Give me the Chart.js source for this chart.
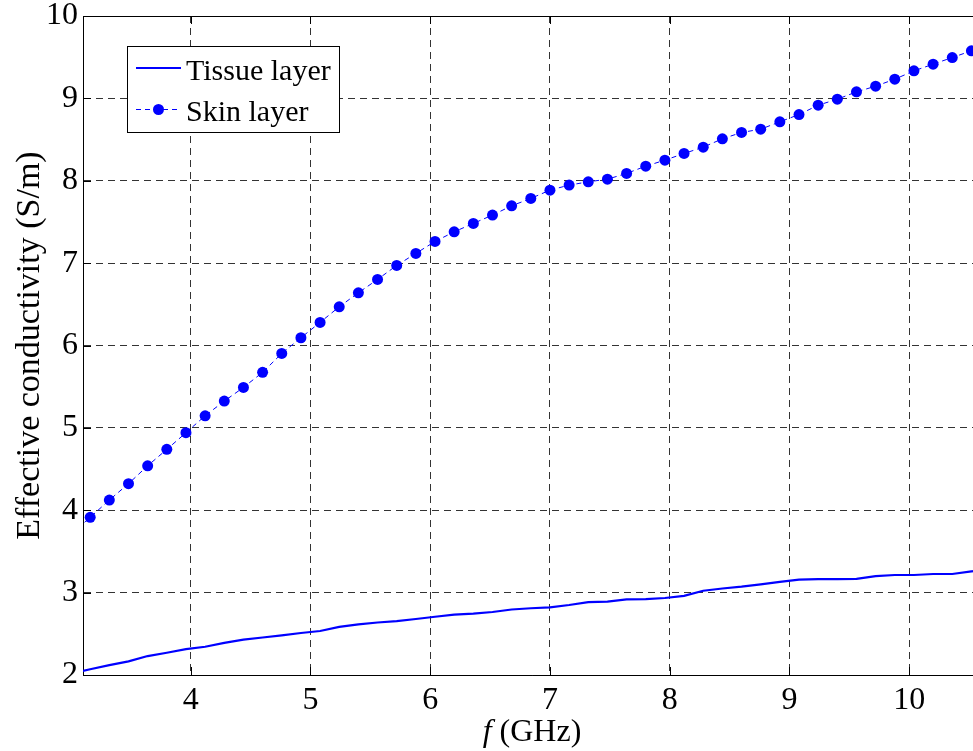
<!DOCTYPE html>
<html>
<head>
<meta charset="utf-8">
<script src="https://cdn.jsdelivr.net/npm/chart.js@4.4.1/dist/chart.umd.min.js"></script>
<style>
  html, body { margin: 0; padding: 0; background: #fff; overflow: hidden; }
  #wrap { position: absolute; left: 0; top: 0; }
</style>
</head>
<body>
<div id="wrap"><canvas id="myChart" width="990" height="751"></canvas></div>
<script>
// frequency samples (GHz)
const freq = [3.00, 3.16, 3.32, 3.48, 3.64, 3.80, 3.96, 4.12, 4.28, 4.44,
              4.60, 4.76, 4.92, 5.08, 5.24, 5.40, 5.56, 5.72, 5.88, 6.04,
              6.20, 6.36, 6.52, 6.68, 6.84, 7.00, 7.16, 7.32, 7.48, 7.64,
              7.80, 7.96, 8.12, 8.28, 8.44, 8.60, 8.76, 8.92, 9.08, 9.24,
              9.40, 9.56, 9.72, 9.88, 10.04, 10.20, 10.36, 10.52, 10.68];

// effective conductivity (S/m)
const tissue = [2.02, 2.07, 2.12, 2.165, 2.23, 2.27, 2.315, 2.343, 2.39, 2.43,
                2.455, 2.48, 2.51, 2.534, 2.585, 2.615, 2.637, 2.653, 2.68, 2.707,
                2.733, 2.745, 2.765, 2.795, 2.81, 2.821, 2.85, 2.885, 2.89, 2.918,
                2.922, 2.935, 2.96, 3.023, 3.05, 3.072, 3.10, 3.13, 3.157, 3.165,
                3.165, 3.166, 3.20, 3.214, 3.214, 3.226, 3.226, 3.257, 3.28];

const skin = [3.71, 3.914, 4.124, 4.322, 4.54, 4.739, 4.941, 5.147, 5.325, 5.491,
              5.674, 5.904, 6.094, 6.28, 6.47, 6.64, 6.802, 6.972, 7.118, 7.263,
              7.38, 7.482, 7.583, 7.696, 7.785, 7.886, 7.947, 7.987, 8.019, 8.089,
              8.177, 8.25, 8.331, 8.408, 8.509, 8.586, 8.626, 8.715, 8.804, 8.917,
              8.99, 9.079, 9.148, 9.233, 9.334, 9.415, 9.496, 9.577, 9.66];

const seriesNames = ['Tissue layer', 'Skin layer'];
const xTicks = [4, 5, 6, 7, 8, 9, 10];
const yTicks = [2, 3, 4, 5, 6, 7, 8, 9, 10];

const FONT = "'Liberation Serif', 'Times New Roman', serif";
const BLUE = '#0000ff';

// box, inward ticks, x title and legend (matlab look)
const extras = {
  id: 'extras',
  afterDraw(chart) {
    const { ctx, chartArea: a, scales: { x, y } } = chart;
    ctx.save();
    ctx.strokeStyle = '#000';
    ctx.lineWidth = 1;
    ctx.setLineDash([]);
    ctx.beginPath();
    ctx.moveTo(a.left, a.top + 0.5); ctx.lineTo(a.right, a.top + 0.5);
    ctx.moveTo(a.right - 0.5, a.top); ctx.lineTo(a.right - 0.5, a.bottom);
    xTicks.forEach(v => {
      const p = Math.round(x.getPixelForValue(v)) + 0.5;
      ctx.moveTo(p, a.bottom); ctx.lineTo(p, a.bottom - 8);
      ctx.moveTo(p, a.top); ctx.lineTo(p, a.top + 8);
    });
    yTicks.forEach(v => {
      const p = Math.round(y.getPixelForValue(v)) + 0.5;
      ctx.moveTo(a.left, p); ctx.lineTo(a.left + 8, p);
      ctx.moveTo(a.right, p); ctx.lineTo(a.right - 8, p);
    });
    ctx.stroke();

    // x axis title, italic f
    ctx.fillStyle = '#000';
    ctx.textBaseline = 'alphabetic';
    ctx.textAlign = 'left';
    const cx = (a.left + a.right) / 2;
    ctx.font = 'italic 32px ' + FONT;
    const fW = ctx.measureText('f').width;
    ctx.font = '32px ' + FONT;
    const restW = ctx.measureText(' (GHz)').width;
    const sx = cx - (fW + restW) / 2;
    ctx.font = 'italic 32px ' + FONT;
    ctx.fillText('f', sx, 741);
    ctx.font = '32px ' + FONT;
    ctx.fillText(' (GHz)', sx + fW, 741);

    // legend
    const lx = a.left + 44, ly = a.top + 30, lw = 212, lh = 86;
    ctx.fillStyle = '#fff';
    ctx.fillRect(lx, ly, lw, lh);
    ctx.strokeStyle = '#000';
    ctx.strokeRect(lx + 0.5, ly + 0.5, lw, lh);

    ctx.strokeStyle = BLUE;
    ctx.lineWidth = 2;
    ctx.beginPath();
    ctx.moveTo(lx + 9, ly + 22); ctx.lineTo(lx + 54, ly + 22);
    ctx.stroke();

    ctx.lineWidth = 1;
    ctx.setLineDash([5, 4]);
    ctx.beginPath();
    ctx.moveTo(lx + 9, ly + 63.5); ctx.lineTo(lx + 54, ly + 63.5);
    ctx.stroke();
    ctx.setLineDash([]);
    ctx.fillStyle = BLUE;
    ctx.beginPath();
    ctx.arc(lx + 31.5, ly + 63.5, 5.5, 0, Math.PI * 2);
    ctx.fill();

    ctx.fillStyle = '#000';
    ctx.font = '30px ' + FONT;
    ctx.fillText(seriesNames[0], lx + 59, ly + 34);
    ctx.fillText(seriesNames[1], lx + 59, ly + 75);
    ctx.restore();
  }
};

const ctx = document.getElementById('myChart').getContext('2d');

new Chart(ctx, {
  type: 'line',
  data: {
    datasets: [
      {
        label: seriesNames[0],
        data: freq.map((f, i) => ({ x: f, y: tissue[i] })),
        borderColor: BLUE,
        borderWidth: 2.2,
        pointRadius: 0,
        tension: 0,
        fill: false,
        clip: 0
      },
      {
        label: seriesNames[1],
        data: freq.map((f, i) => ({ x: f, y: skin[i] })),
        borderColor: BLUE,
        borderWidth: 1,
        borderDash: [5, 4],
        pointRadius: 5.5,
        pointBackgroundColor: BLUE,
        pointBorderColor: BLUE,
        pointBorderWidth: 0,
        tension: 0,
        fill: false,
        clip: 0
      }
    ]
  },
  options: {
    responsive: false,
    animation: false,
    layout: { padding: { top: 16, right: 9, left: 0, bottom: 0 } },
    plugins: {
      legend: { display: false },
      tooltip: { enabled: false }
    },
    scales: {
      x: {
        type: 'linear',
        min: 3.1,
        max: 10.6,
        afterFit: s => { s.height = 76; s.paddingLeft = 0; s.paddingRight = 0; },
        afterBuildTicks: s => { s.ticks = xTicks.map(v => ({ value: v })); },
        grid: { color: '#333', lineWidth: 1, drawTicks: false },
        border: { color: '#000', width: 1, dash: [7, 5] },
        ticks: { color: '#000', padding: 6, font: { family: FONT, size: 32 }, maxRotation: 0 }
      },
      y: {
        type: 'linear',
        min: 2,
        max: 10,
        afterFit: s => { s.width = 83; s.paddingTop = 0; s.paddingBottom = 0; },
        afterBuildTicks: s => { s.ticks = yTicks.map(v => ({ value: v })); },
        grid: { color: '#333', lineWidth: 1, drawTicks: false },
        border: { color: '#000', width: 1, dash: [7, 5] },
        ticks: { color: '#000', padding: 5, font: { family: FONT, size: 32 } },
        title: {
          display: true,
          text: 'Effective conductivity (S/m)',
          color: '#000',
          font: { family: FONT, size: 34 },
          padding: { top: 10, bottom: 0 }
        }
      }
    }
  },
  plugins: [extras]
});
</script>
</body>
</html>
